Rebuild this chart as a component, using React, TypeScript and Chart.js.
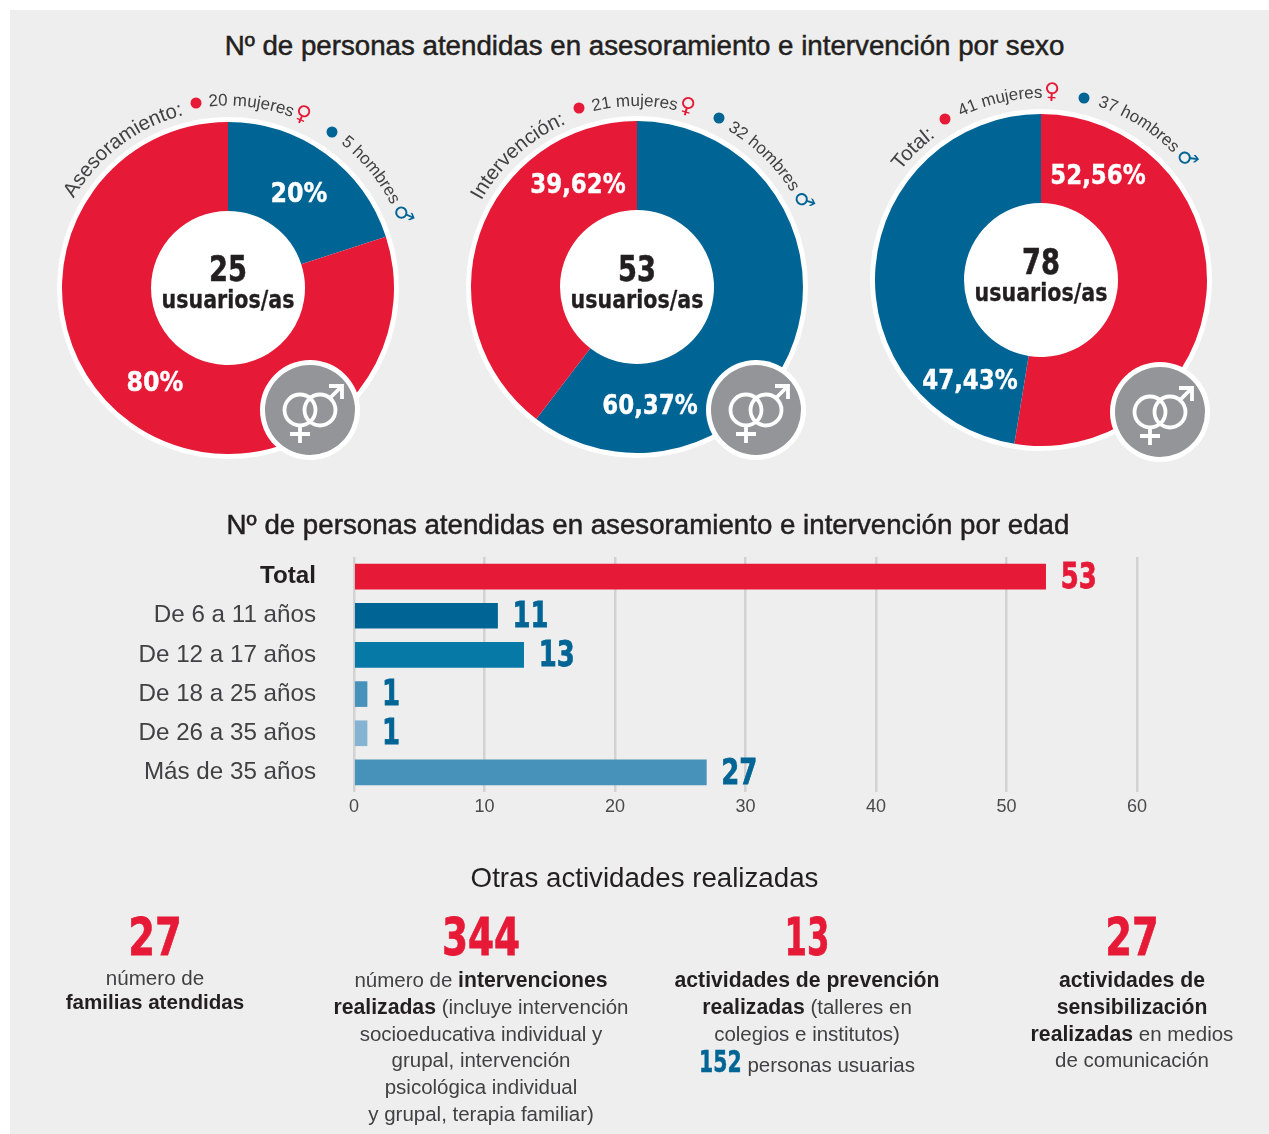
import React, { useEffect, useRef } from "react";
import { Chart, registerables } from "chart.js";

Chart.register(...registerables);

const RED = "#E61A37";
const BLUE = "#006595";
const DARK = "#231F20";
const TEXT = "#414143";
const SANS = '"Liberation Sans", Arial, sans-serif';
const SLAB = '"DejaVu Sans", sans-serif';

// Doughnut data (percent of people, clockwise from the top)
const asesoramientoPct = [20, 80];
const asesoramientoColors = [BLUE, RED];
const intervencionPct = [60.37, 39.62];
const intervencionColors = [BLUE, RED];
const totalPct = [52.56, 47.43];
const totalColors = [RED, BLUE];

// Bar data
const ageCategories = ["Total", "De 6 a 11 años", "De 12 a 17 años", "De 18 a 25 años", "De 26 a 35 años", "Más de 35 años"];
const ageValues = [53, 11, 13, 1, 1, 27];
const ageColors = [RED, "#006595", "#0679A6", "#4792BA", "#84B4D2", "#4792BA"];
const ageLabelColors = [RED, BLUE, BLUE, BLUE, BLUE, BLUE];

const D = 332; // doughnut diameter

function Doughnut({ cx, cy, values, colors }: { cx: number; cy: number; values: number[]; colors: string[] }) {
  const ref = useRef<HTMLCanvasElement>(null);
  useEffect(() => {
    const chart = new Chart(ref.current!, {
      type: "doughnut",
      data: { datasets: [{ data: values, backgroundColor: colors, borderWidth: 0 }] },
      options: {
        animation: false,
        responsive: false,
        cutout: 77,
        layout: { padding: 0 },
        plugins: { legend: { display: false }, tooltip: { enabled: false } },
      },
    });
    return () => chart.destroy();
  }, []);
  return (
    <>
      <div style={{ position: "absolute", left: cx - 171, top: cy - 171, width: 342, height: 342, borderRadius: "50%", background: "#fff" }} />
      <canvas ref={ref} width={D} height={D} style={{ position: "absolute", left: cx - D / 2, top: cy - D / 2, width: D, height: D }} />
    </>
  );
}

const valueLabels = {
  id: "valueLabels",
  afterDatasetsDraw(chart: any) {
    const { ctx } = chart;
    const meta = chart.getDatasetMeta(0);
    meta.data.forEach((bar: any, i: number) => {
      ctx.save();
      ctx.font = `bold 35px ${SLAB}`;
      ctx.textBaseline = "middle";
      ctx.textAlign = "left";
      ctx.fillStyle = ageLabelColors[i];
      ctx.strokeStyle = ageLabelColors[i];
      ctx.lineWidth = 0.8;
      ctx.translate(bar.x + 15, bar.y + 2);
      ctx.scale(0.74, 1);
      ctx.fillText(String(ageValues[i]), 0, 0);
      ctx.strokeText(String(ageValues[i]), 0, 0);
      ctx.restore();
    });
  },
};

function AgeBars() {
  const ref = useRef<HTMLCanvasElement>(null);
  useEffect(() => {
    const chart = new Chart(ref.current!, {
      type: "bar",
      data: {
        labels: ageCategories,
        datasets: [{ data: ageValues, backgroundColor: ageColors, barThickness: 25, borderWidth: 0 }],
      },
      options: {
        animation: false,
        responsive: false,
        indexAxis: "y",
        layout: { padding: { top: 7, right: 23, left: 0, bottom: 0 } },
        plugins: { legend: { display: false }, tooltip: { enabled: false } },
        scales: {
          x: {
            min: 0,
            max: 60,
            afterFit: (s: any) => { s.height = 28; s.paddingLeft = 0; s.paddingRight = 0; },
            border: { display: false },
            grid: { color: "#d2d2d2", lineWidth: 2.5, drawTicks: false },
            ticks: { stepSize: 10, color: "#4a4a4c", padding: 4, font: { family: SANS, size: 18 } },
          },
          y: {
            afterFit: (s: any) => { s.width = 234; s.paddingTop = 0; s.paddingBottom = 0; },
            border: { display: false },
            grid: { display: false },
            ticks: {
              color: (c: any) => (c.index === 0 ? DARK : TEXT),
              padding: 30,
              font: (c: any) => ({ family: SANS, size: 24.2, weight: c.index === 0 ? "bold" : "normal" }),
            },
          },
        },
      },
      plugins: [valueLabels],
    });
    return () => chart.destroy();
  }, []);
  return <canvas ref={ref} width={1040} height={270} style={{ position: "absolute", left: 120, top: 550, width: 1040, height: 270 }} />;
}

function T({ x, y, size, children, color = TEXT, weight = 400, family = SANS, stroke = 0, sx = 1 }: any) {
  return (
    <div
      style={{
        position: "absolute",
        left: x - 600,
        top: y - 30,
        width: 1200,
        height: 60,
        lineHeight: "60px",
        textAlign: "center",
        whiteSpace: "nowrap",
        fontSize: size,
        color,
        fontWeight: weight,
        fontFamily: family,
        transform: sx !== 1 ? `scaleX(${sx})` : undefined,
        WebkitTextStroke: stroke ? `${stroke}px ${color}` : undefined,
      }}
    >
      {children}
    </div>
  );
}

const B = ({ children }: any) => <b style={{ color: DARK, fontSize: 21.2 }}>{children}</b>;

function arc(cx: number, cy: number, r: number, a0: number, a1: number) {
  const p = (a: number) => {
    const t = (a * Math.PI) / 180;
    return `${(cx + r * Math.sin(t)).toFixed(1)} ${(cy - r * Math.cos(t)).toFixed(1)}`;
  };
  return `M ${p(a0)} A ${r} ${r} 0 0 1 ${p(a1)}`;
}

function ArcText({ id, cx, cy, r = 180, start, size, children }: any) {
  return (
    <>
      <path id={id} d={arc(cx, cy, r, start, start + 110)} fill="none" />
      <text fontFamily={SANS} fontSize={size} fill={TEXT}>
        <textPath href={`#${id}`}>{children}</textPath>
      </text>
    </>
  );
}

const Female = () => <tspan fill={RED} fontFamily="DejaVu Sans" fontSize={22} dx={1}>♀</tspan>;
const Male = () => <tspan fill={BLUE} fontFamily="DejaVu Sans" fontSize={22} dx={3}>♂</tspan>;

function Dot({ cx, cy, color }: any) {
  return <circle cx={cx} cy={cy} r={5.5} fill={color} />;
}

function Badge({ cx, cy }: { cx: number; cy: number }) {
  const s = { fill: "none", stroke: "#fff", strokeWidth: 3.8 } as any;
  return (
    <g transform={`translate(${cx} ${cy})`}>
      <circle r={50} fill="#fff" />
      <circle r={45} fill="#939598" />
      <circle cx={-10} cy={0} r={15.5} {...s} />
      <circle cx={10} cy={0} r={15.5} {...s} />
      <path d="M -10 15 V 33 M -20 24 H 0" {...s} />
      <path d="M 20 -12 L 31 -23 M 19 -24 H 32 V -11" {...s} />
    </g>
  );
}

export default function App() {
  return (
    <div style={{ position: "absolute", left: 0, top: 0, width: 1269, height: 1134, overflow: "hidden", background: "#fff" }}>
      <div style={{ position: "absolute", left: 10, top: 10, width: 1259, height: 1124, background: "#EEEEEE" }} />

      <T x={644.5} y={46} size={27.7} color={DARK} stroke={0.5}>Nº de personas atendidas en asesoramiento e intervención por sexo</T>

      <Doughnut cx={228} cy={287.5} values={asesoramientoPct} colors={asesoramientoColors} />
      <Doughnut cx={637} cy={287} values={intervencionPct} colors={intervencionColors} />
      <Doughnut cx={1041} cy={280} values={totalPct} colors={totalColors} />

      <svg width={1269} height={1134} style={{ position: "absolute", left: 0, top: 0 }}>
        <ArcText id="a1" cx={228} cy={287.5} r={178} start={-60} size={20.4}>Asesoramiento:</ArcText>
        <Dot cx={196} cy={103} color={RED} />
        <ArcText id="a2" cx={228} cy={287.5} r={182} start={-6} size={17}>20 mujeres<Female /></ArcText>
        <Dot cx={332} cy={132} color={BLUE} />
        <ArcText id="a3" cx={228} cy={287.5} r={183} start={38} size={17}>5 hombres<Male /></ArcText>

        <ArcText id="b1" cx={637} cy={287} r={178} start={-61} size={20.4}>Intervención:</ArcText>
        <Dot cx={579} cy={108} color={RED} />
        <ArcText id="b2" cx={637} cy={287} r={181} start={-14} size={17}>21 mujeres<Female /></ArcText>
        <Dot cx={719} cy={118} color={BLUE} />
        <ArcText id="b3" cx={637} cy={287} r={181} start={30} size={17}>32 hombres<Male /></ArcText>

        <ArcText id="c1" cx={1041} cy={280} r={178} start={-52} size={20.4}>Total:</ArcText>
        <Dot cx={945} cy={119} color={RED} />
        <ArcText id="c2" cx={1041} cy={280} r={182} start={-26} size={17}>41 mujeres<Female /></ArcText>
        <Dot cx={1084} cy={98} color={BLUE} />
        <ArcText id="c3" cx={1041} cy={280} r={183} start={18} size={17}>37 hombres<Male /></ArcText>

        <Badge cx={310} cy={410} />
        <Badge cx={756} cy={410} />
        <Badge cx={1160} cy={412} />
      </svg>

      {[[228, 269, "25", 300], [637, 269, "53", 300], [1041, 262, "78", 293]].map(([x, y, n, y2]: any) => (
        <React.Fragment key={n}>
          <T x={x} y={y} size={35} color={DARK} weight={700} family={SLAB} sx={0.78} stroke={0.6}>{n}</T>
          <T x={x} y={y2} size={24} color={DARK} weight={700} family={SLAB} sx={0.86} stroke={0.3}>usuarios/as</T>
        </React.Fragment>
      ))}

      <T x={299} y={193} size={27} color="#fff" weight={700} family={SLAB} sx={0.88} stroke={0.4}>20%</T>
      <T x={155} y={382} size={27} color="#fff" weight={700} family={SLAB} sx={0.88} stroke={0.4}>80%</T>
      <T x={578} y={184} size={27} color="#fff" weight={700} family={SLAB} sx={0.85} stroke={0.4}>39,62%</T>
      <T x={650} y={405} size={27} color="#fff" weight={700} family={SLAB} sx={0.85} stroke={0.4}>60,37%</T>
      <T x={1098} y={175} size={27} color="#fff" weight={700} family={SLAB} sx={0.85} stroke={0.4}>52,56%</T>
      <T x={970} y={380} size={27} color="#fff" weight={700} family={SLAB} sx={0.85} stroke={0.4}>47,43%</T>

      <T x={648} y={525} size={27.7} color={DARK} stroke={0.5}>Nº de personas atendidas en asesoramiento e intervención por edad</T>
      <AgeBars />
      <T x={644.5} y={878} size={27.7} color={DARK}>Otras actividades realizadas</T>

      <T x={155} y={937} size={52} color={RED} weight={700} family={SLAB} sx={0.74} stroke={0.8}>27</T>
      <T x={481} y={937} size={52} color={RED} weight={700} family={SLAB} sx={0.72} stroke={0.8}>344</T>
      <T x={807} y={937} size={52} color={RED} weight={700} family={SLAB} sx={0.62} stroke={0.8}>13</T>
      <T x={1132} y={937} size={52} color={RED} weight={700} family={SLAB} sx={0.74} stroke={0.8}>27</T>

      <T x={155} y={978} size={20.6}>número de</T>
      <T x={155} y={1002} size={20.6} color={DARK} weight={700}>familias atendidas</T>

      <T x={481} y={980} size={20.5}>número de <B>intervenciones</B></T>
      <T x={481} y={1007} size={20.5}><B>realizadas</B> (incluye intervención</T>
      <T x={481} y={1034} size={20.5}>socioeducativa individual y</T>
      <T x={481} y={1060} size={20.5}>grupal, intervención</T>
      <T x={481} y={1087} size={20.5}>psicológica individual</T>
      <T x={481} y={1114} size={20.5}>y grupal, terapia familiar)</T>

      <T x={807} y={980} size={20.5}><B>actividades de prevención</B></T>
      <T x={807} y={1007} size={20.5}><B>realizadas</B> (talleres en</T>
      <T x={807} y={1034} size={20.5}>colegios e institutos)</T>
      <T x={807} y={1062} size={20.5}>
        <span style={{ display: "inline-block", fontFamily: SLAB, fontWeight: 700, fontSize: 30, color: BLUE, transform: "scaleX(0.68)", margin: "0 -10px", WebkitTextStroke: `0.5px ${BLUE}` }}>152</span> personas usuarias
      </T>

      <T x={1132} y={980} size={20.5}><B>actividades de</B></T>
      <T x={1132} y={1007} size={20.5}><B>sensibilización</B></T>
      <T x={1132} y={1034} size={20.5}><B>realizadas</B> en medios</T>
      <T x={1132} y={1060} size={20.5}>de comunicación</T>
    </div>
  );
}
